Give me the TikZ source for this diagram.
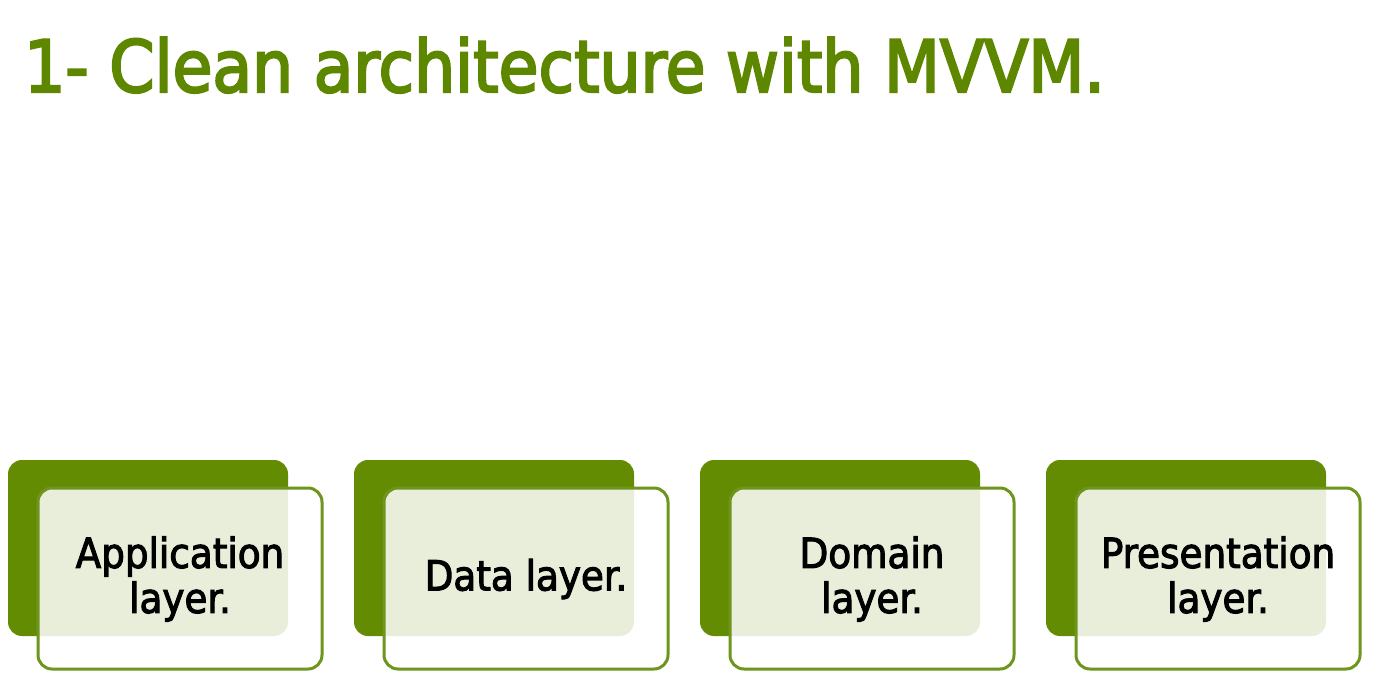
\documentclass[tikz,border=0pt]{standalone}
\usepackage{fontspec}
\setmainfont{DejaVu Sans Condensed}
\newfontfamily\titlefont{DejaVu Sans Condensed}[FakeBold=3]
\newfontfamily\boxfont{DejaVu Sans Condensed}[FakeBold=2.5]
\definecolor{titlegreen}{RGB}{94,135,0}
\definecolor{boxgreen}{RGB}{100,140,2}
\definecolor{edgegreen}{RGB}{110,150,30}
\begin{document}
\begin{tikzpicture}[x=1pt,y=-1pt,
  backbox/.style={fill=boxgreen, rounded corners=14pt},
  frontbox/.style={draw=edgegreen, line width=3pt, fill=white, fill opacity=0.86, rounded corners=14pt},
  boxtext/.style={font=\boxfont\fontsize{41.5}{45}\selectfont, align=center, text=black}
]
\useasboundingbox (0,0) rectangle (1379,700);
\fill[white] (0,0) rectangle (1379,700);
\node[anchor=base west, inner sep=0pt, text=titlegreen, font=\titlefont\fontsize{72}{80}\selectfont] (title) at (24,92) {1- Clean architecture with MVVM.};
\foreach \i/\txt/\nm in {0/{Application\\layer.}/app, 1/{Data layer.}/data, 2/{Domain\\layer.}/dom, 3/{Presentation\\layer.}/pres} {
  \pgfmathsetmacro{\dx}{\i*346}
  \begin{scope}[xshift=\dx pt]
    \path[backbox] (8,460) rectangle (288,636);
    \path[frontbox] (38,488) rectangle (322,669);
    \node[boxtext] (\nm) at (180,579) {\txt};
  \end{scope}
}
\end{tikzpicture}
\end{document}
